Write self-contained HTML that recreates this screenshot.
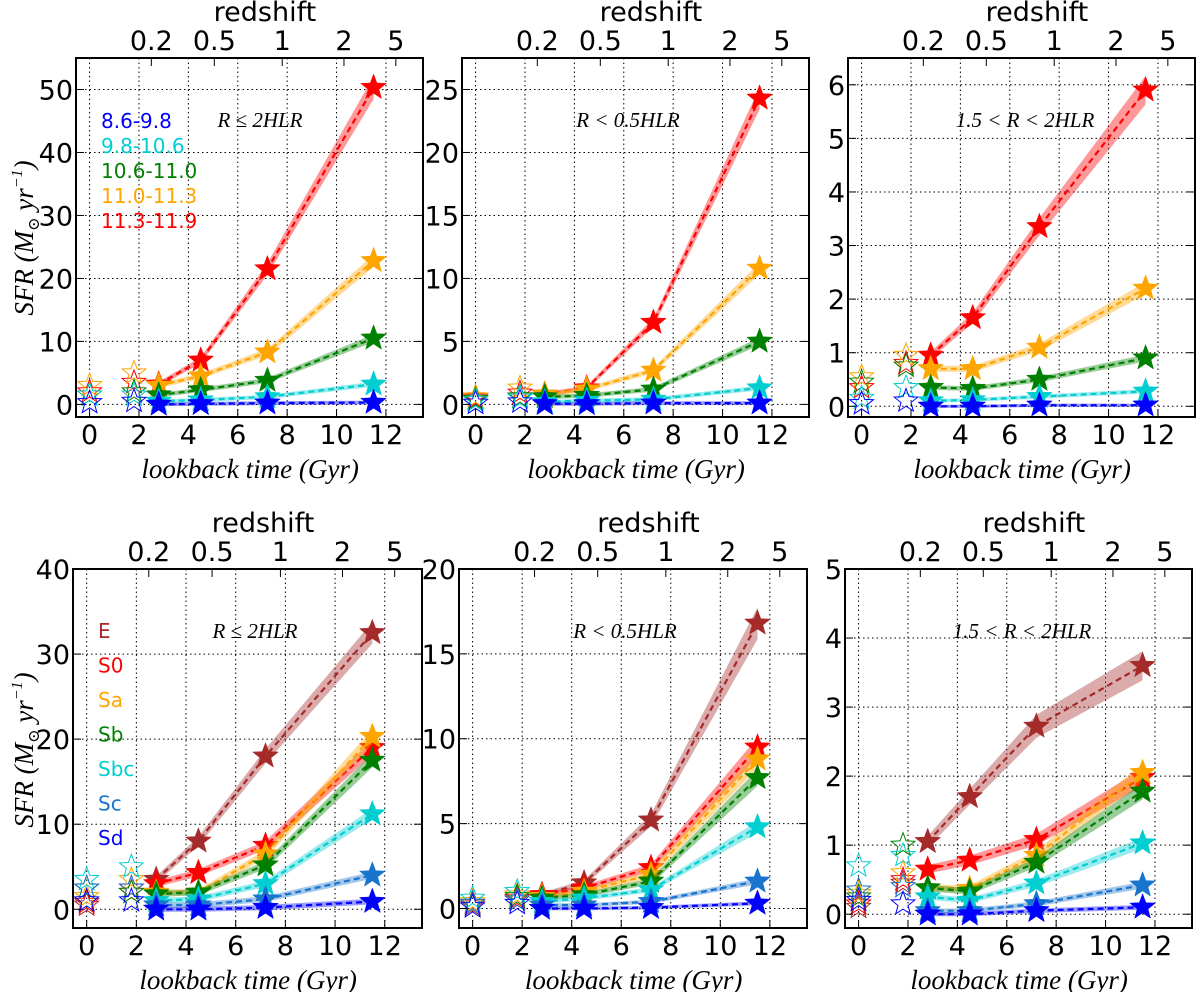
<!DOCTYPE html>
<html><head><meta charset="utf-8"><style>
html,body{margin:0;padding:0;background:#fff;}
svg{display:block;}
text{font-family:"DejaVu Sans","Liberation Sans",sans-serif;}
.it{font-family:"Liberation Serif","DejaVu Serif",serif;font-style:italic;}
</style></head><body>
<svg id="fig" width="1200" height="992" viewBox="0 0 1200 992" xmlns="http://www.w3.org/2000/svg"></svg>
<script>
// ---- data ----
const times = [2.8, 4.5, 7.2, 11.5];
const openTimes = [0, 1.8];
const massLabels = ["11.3-11.9","11.0-11.3","10.6-11.0","9.8-10.6","8.6-9.8"];
const massColors = ["#ff0000","#ffa500","#008000","#00ced1","#0000ff"];
const typeLabels = ["E","S0","Sa","Sb","Sbc","Sc","Sd"];
const typeColors = ["#a52a2a","#ff0000","#ffa500","#008000","#00ced1","#1874cd","#0000ff"];
const redshiftLabels = ["0.2","0.5","1","2","5"];
const redshiftTimes = [2.5, 5.05, 7.8, 10.3, 12.4];
const xTicks = [0,2,4,6,8,10,12];

// panel A: R<=2HLR, mass bins (red, orange, green, cyan, blue)
const A_vals = [[3.2,7.0,21.5,50.3],[3.0,4.5,8.3,22.8],[1.5,2.3,3.8,10.5],[0.5,0.7,1.2,3.2],[0.0,0.1,0.2,0.3]];
const A_open = [[2.0,3.5],[3.0,5.0],[1.5,2.0],[1.5,1.5],[0.3,0.5]];
const A_ticks = [0,10,20,30,40,50];
// panel B: R<0.5HLR
const B_vals = [[0.8,1.3,6.5,24.3],[0.8,1.2,2.7,10.8],[0.6,0.7,1.2,5.0],[0.2,0.3,0.4,1.3],[0.05,0.05,0.1,0.1]];
const B_open = [[0.5,0.9],[0.6,1.3],[0.4,0.6],[0.3,0.5],[0.1,0.2]];
const B_ticks = [0,5,10,15,20,25];
// panel C: 1.5<R<2HLR
const C_vals = [[0.95,1.65,3.35,5.9],[0.7,0.7,1.1,2.2],[0.35,0.33,0.5,0.9],[0.1,0.12,0.18,0.28],[0.0,0.0,0.02,0.02]];
const C_open = [[0.35,0.8],[0.55,0.95],[0.45,0.75],[0.15,0.35],[0.05,0.1]];
const C_ticks = [0,1,2,3,4,5,6];
// panel D: R<=2HLR, morphological types (E,S0,Sa,Sb,Sbc,Sc,Sd)
const D_vals = [[3.5,8.0,18.0,32.5],[3.0,4.3,7.5,19.0],[2.0,2.0,6.5,20.3],[1.8,2.0,5.2,17.5],[1.0,1.2,3.0,11.2],[0.5,0.5,1.2,4.0],[0.0,0.0,0.2,0.9]];
const D_open = [[0.5,2.0],[0.8,2.5],[1.5,3.5],[2.5,2.0],[3.5,5.0],[2.5,2.5],[1.0,1.0]];
const D_ticks = [0,10,20,30,40];
// panel E: R<0.5HLR
const E_vals = [[0.8,1.5,5.2,16.8],[0.8,1.2,2.4,9.5],[0.7,1.0,2.0,8.8],[0.6,0.8,1.6,7.7],[0.4,0.6,1.1,4.8],[0.2,0.2,0.4,1.6],[0.0,0.0,0.05,0.3]];
const E_open = [[0.2,0.5],[0.3,0.6],[0.4,0.8],[0.3,0.7],[0.6,1.0],[0.3,0.5],[0.1,0.3]];
const E_ticks = [0,5,10,15,20];
// panel F: 1.5<R<2HLR
const F_vals = [[1.05,1.7,2.72,3.6],[0.65,0.78,1.08,1.98],[0.38,0.37,0.85,2.05],[0.38,0.33,0.75,1.78],[0.25,0.2,0.45,1.03],[0.05,0.05,0.15,0.42],[0.0,0.0,0.05,0.1]];
const F_open = [[0.1,0.45],[0.15,0.5],[0.3,0.6],[0.25,1.0],[0.7,0.85],[0.35,0.4],[0.2,0.15]];
const F_ticks = [0,1,2,3,4,5];

const NS = "http://www.w3.org/2000/svg";
const svg = document.getElementById("fig");
function mk(tag, attrs, parent){
  const e = document.createElementNS(NS, tag);
  for (const k in attrs) e.setAttribute(k, attrs[k]);
  (parent||svg).appendChild(e);
  return e;
}
function starPath(cx, cy, R){
  const r = R*0.42; let d = "";
  for (let i=0;i<10;i++){
    const rr = i%2===0 ? R : r;
    const a = -Math.PI/2 + i*Math.PI/5;
    d += (i===0?"M":"L") + (cx+rr*Math.cos(a)).toFixed(1) + "," + (cy+rr*Math.sin(a)).toFixed(1);
  }
  return d+"Z";
}

function panel(cfg){
  const g = mk("g", {});
  
  
  const X = v => cfg.L + (v - cfg.x0)/(cfg.x1 - cfg.x0)*(cfg.R - cfg.L);
  const Y = v => cfg.B - (v - cfg.y0)/(cfg.y1 - cfg.y0)*(cfg.B - cfg.T);
  xTicks.forEach(t => {
    const l = mk("line",{x1:X(t),x2:X(t),y1:cfg.T,y2:cfg.B,stroke:"#000","stroke-width":1,"stroke-dasharray":"1.5,3"},g);
    
    
  });
  cfg.yticks.forEach(t => {
    const l = mk("line",{x1:cfg.L,x2:cfg.R,y1:Y(t),y2:Y(t),stroke:"#000","stroke-width":1,"stroke-dasharray":"1.5,3"},g);
    
    
  });
  const n = cfg.vals.length;
  for (let s=0;s<n;s++){
    const col = cfg.colors[s], v = cfg.vals[s];
    const sg = mk("g",{},g);
    
    
    const up = [], lo = [];
    for (let i=0;i<times.length;i++){
      const e = v[i]*cfg.frac + cfg.base;
      up.push(X(times[i]).toFixed(1)+","+Y(v[i]+e).toFixed(1));
      lo.unshift(X(times[i]).toFixed(1)+","+Y(v[i]-e).toFixed(1));
    }
    const band = mk("polygon",{points:up.concat(lo).join(" "),fill:col,"fill-opacity":0.4,stroke:"none"},sg);
    
    
    const pl = mk("polyline",{points:times.map((t,i)=>X(t).toFixed(1)+","+Y(v[i]).toFixed(1)).join(" "),fill:"none",stroke:col,"stroke-width":2.2,"stroke-dasharray":"6,4"},sg);
    
    
    openTimes.forEach((t,i) => {
      const o = mk("path",{d:starPath(X(t),Y(cfg.open[s][i]),12.5),fill:"none",stroke:col,"stroke-width":1},sg);
      
      
    });
    times.forEach((t,i) => {
      const m = mk("path",{d:starPath(X(t),Y(v[i]),13.5),fill:col,stroke:col,"stroke-width":0.5},sg);
      
      
    });
  }
  const fr = mk("rect",{x:cfg.L,y:cfg.T,width:cfg.R-cfg.L,height:cfg.B-cfg.T,fill:"none",stroke:"#000","stroke-width":2},g);
  
  
  cfg.yticks.forEach(t => {
    mk("line",{x1:cfg.L,x2:cfg.L+8,y1:Y(t),y2:Y(t),stroke:"#000","stroke-width":1},g);
    mk("line",{x1:cfg.R,x2:cfg.R-8,y1:Y(t),y2:Y(t),stroke:"#000","stroke-width":1},g);
    const tx = mk("text",{x:cfg.L-3,y:Y(t)+10,"text-anchor":"end","font-size":27},g);
    tx.textContent = t;
    
    
  });
  xTicks.forEach(t => {
    mk("line",{x1:X(t),x2:X(t),y1:cfg.B,y2:cfg.B-8,stroke:"#000","stroke-width":1},g);
    const tx = mk("text",{x:X(t),y:cfg.B+27,"text-anchor":"middle","font-size":27},g);
    tx.textContent = t;
    
    
  });
  redshiftTimes.forEach((t,i) => {
    mk("line",{x1:X(t),x2:X(t),y1:cfg.T,y2:cfg.T+8,stroke:"#000","stroke-width":1},g);
    const tx = mk("text",{x:X(t),y:cfg.T-8,"text-anchor":"middle","font-size":27},g);
    tx.textContent = redshiftLabels[i];
    
    
  });
  const rt = mk("text",{x:X(7.1),y:cfg.T-37,"text-anchor":"middle","font-size":27},g);
  rt.textContent = "redshift";
  
  
  const xl = mk("text",{x:X(6.5),y:cfg.B+61,"text-anchor":"middle","font-size":27,"class":"it"},g);
  xl.textContent = "lookback time (Gyr)";
  
  
  const an = mk("text",{x:cfg.annX,y:cfg.T+69,"text-anchor":"middle","font-size":21,"class":"it"},g);
  an.textContent = cfg.ann;
  
  
  return {X,Y};
}

const xr = [-0.55, 13.5];
panel({name:"panel-mass-total",L:76,R:423,T:58,B:417,x0:xr[0],x1:xr[1],y0:-2,y1:55,yticks:A_ticks,vals:A_vals,open:A_open,colors:massColors,labels:massLabels,frac:0.03,base:0.3,ann:"R ≤ 2HLR",annX:260});
panel({name:"panel-mass-inner",L:462,R:809,T:58,B:417,x0:xr[0],x1:xr[1],y0:-1,y1:27.5,yticks:B_ticks,vals:B_vals,open:B_open,colors:massColors,labels:massLabels,frac:0.03,base:0.15,ann:"R < 0.5HLR",annX:628});
panel({name:"panel-mass-outer",L:848,R:1195,T:58,B:417,x0:xr[0],x1:xr[1],y0:-0.2,y1:6.5,yticks:C_ticks,vals:C_vals,open:C_open,colors:massColors,labels:massLabels,frac:0.04,base:0.03,ann:"1.5 < R < 2HLR",annX:1025});
panel({name:"panel-type-total",L:73,R:422,T:569,B:928,x0:xr[0],x1:xr[1],y0:-2.2,y1:40,yticks:D_ticks,vals:D_vals,open:D_open,colors:typeColors,labels:typeLabels,frac:0.03,base:0.3,ann:"R ≤ 2HLR",annX:255});
panel({name:"panel-type-inner",L:459,R:807,T:569,B:928,x0:xr[0],x1:xr[1],y0:-1.15,y1:20,yticks:E_ticks,vals:E_vals,open:E_open,colors:typeColors,labels:typeLabels,frac:0.05,base:0.1,ann:"R < 0.5HLR",annX:625});
panel({name:"panel-type-outer",L:845,R:1192,T:569,B:928,x0:xr[0],x1:xr[1],y0:-0.2,y1:5,yticks:F_ticks,vals:F_vals,open:F_open,colors:typeColors,labels:typeLabels,frac:0.05,base:0.03,ann:"1.5 < R < 2HLR",annX:1022});

const massLegendOrder = [4,3,2,1,0];
massLegendOrder.forEach((idx,i) => {
  const t = mk("text",{x:101,y:128+i*25,"font-size":20,fill:massColors[idx]});
  t.textContent = massLabels[idx];
  
  
});
typeLabels.forEach((lab,i) => {
  const t = mk("text",{x:98,y:638+i*34.5,"font-size":20,fill:typeColors[i]});
  t.textContent = lab;
  
  
});
[[25,238],[25,750]].forEach(p => {
  const t = mk("text",{x:0,y:0,"text-anchor":"middle","font-size":27,"class":"it",transform:"translate("+(p[0]+8)+","+p[1]+") rotate(-90)"});
  t.innerHTML = 'SFR (M<tspan font-size="16" dy="6">⊙</tspan><tspan dy="-6"> yr</tspan><tspan font-size="16" dy="-11">−1</tspan><tspan dy="11">)</tspan>';
  
  
});
</script>
</body></html>
